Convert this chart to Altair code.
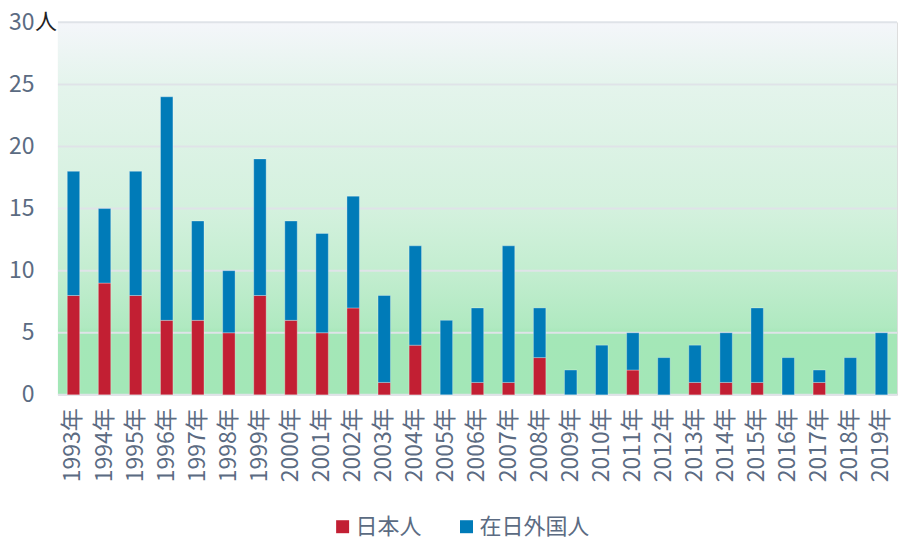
import altair as alt
import pandas as pd

years = [f"{y}年" for y in range(1993, 2020)]
japanese = [8, 9, 8, 6, 6, 5, 8, 6, 5, 7, 1, 4, 0, 1, 1, 3, 0, 0, 2, 0, 1, 1, 1, 0, 1, 0, 0]
totals = [18, 15, 18, 24, 14, 10, 19, 14, 13, 16, 8, 12, 6, 7, 12, 7, 2, 4, 5, 3, 4, 5, 7, 3, 2, 3, 5]
foreign = [t - j for t, j in zip(totals, japanese)]
series = ["日本人", "在日外国人"]
colors = ["#c21f33", "#007bb8"]
y_ticks = [0, 5, 10, 15, 20, 25, 30]

rows = []
for i, y in enumerate(years):
    rows.append({"year": y, "group": series[0], "value": japanese[i], "ord": 0})
    rows.append({"year": y, "group": series[1], "value": foreign[i], "ord": 1})
df = pd.DataFrame(rows)

FONT = "Noto Sans CJK JP"
GRAY = "#5b6b82"

yscale = alt.Scale(domain=[0, 30])

bg = alt.Chart(pd.DataFrame({"a": [0]})).mark_rect(
    fill=alt.Gradient(
        gradient="linear", x1=0, x2=0, y1=0, y2=1,
        stops=[
            alt.GradientStop(color="#f4f6fa", offset=0),
            alt.GradientStop(color="#e4f4ec", offset=0.17),
            alt.GradientStop(color="#d4f1de", offset=0.5),
            alt.GradientStop(color="#c2edcf", offset=0.68),
            alt.GradientStop(color="#afe9c0", offset=0.82),
            alt.GradientStop(color="#a4e7b7", offset=0.835),
            alt.GradientStop(color="#a3e7b7", offset=1),
        ],
    )
).encode(
    x=alt.value(0), x2=alt.value("width"),
    y=alt.datum(30, scale=yscale), y2=alt.datum(0),
)

grid = alt.Chart(pd.DataFrame({"value": y_ticks})).mark_rule(
    color="#dfe3e8", strokeWidth=2
).encode(
    y=alt.Y("value:Q", scale=yscale),
)

bars = alt.Chart(df).mark_bar(
    stroke="#ffffff", strokeWidth=1, strokeOpacity=0.3
).encode(
    x=alt.X("year:N", sort=years,
            scale=alt.Scale(paddingInner=0.6, paddingOuter=0.3),
            axis=alt.Axis(title=None, labelAngle=270, labelFontSize=23, labelColor=GRAY,
                          labelFont=FONT, ticks=False, domain=False,
                          labelPadding=13, grid=False)),
    y=alt.Y("value:Q", stack="zero", scale=yscale,
            axis=alt.Axis(title=None, values=y_ticks, labelFontSize=23,
                          labelColor=GRAY, labelFont=FONT, ticks=False, domain=False,
                          grid=False, labelPadding=24)),
    color=alt.Color("group:N", scale=alt.Scale(domain=series, range=colors),
                    legend=alt.Legend(title=None, orient="none", legendX=274, legendY=494,
                                      direction="horizontal",
                                      symbolType="square", symbolSize=169, labelFontSize=22,
                                      labelColor=GRAY, labelFont=FONT, columnPadding=33,
                                      labelOffset=2, symbolStrokeWidth=0)),
    order=alt.Order("ord:Q", sort="ascending"),
)

unit = alt.Chart(pd.DataFrame({"t": ["人"]})).mark_text(
    fontSize=22, font=FONT, color="#222222", align="center", baseline="middle"
).encode(
    x=alt.value(-12), y=alt.datum(30), text="t:N"
)

chart = alt.layer(bg, grid, bars, unit).properties(
    width=840, height=373,
    padding={"left": 0, "right": 0, "top": 3, "bottom": 0},
).configure_view(stroke=None).configure(font=FONT)

chart.save("out.html", embed_options={"renderer": "svg", "actions": False})
